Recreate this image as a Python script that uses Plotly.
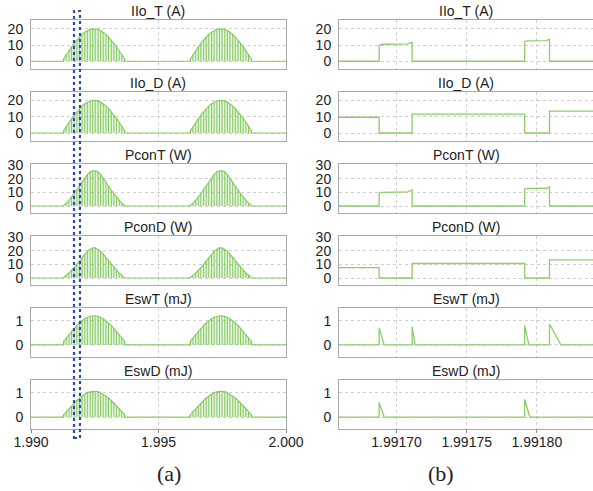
import plotly.graph_objects as go

W, H = 593, 491

# ---------------- data ----------------
titles = ["IIo_T (A)", "IIo_D (A)", "PconT (W)", "PconD (W)", "EswT (mJ)", "EswD (mJ)"]
y_ranges = [[-4.8, 25.5], [-4.9, 25.2], [-5.1, 30.7], [-5.1, 30.7], [-0.5, 1.52], [-0.49, 1.52]]
y_ticks = [[0, 10, 20], [0, 10, 20], [0, 10, 20, 30], [0, 10, 20, 30], [0, 1], [0, 1]]

left_x_range = [1.990, 2.000]
left_x_ticks = [1.990, 1.995, 2.000]
left_x_ticktext = ["1.990", "1.995", "2.000"]

right_x_range = [1.991659, 1.99184]
right_x_ticks = [1.99170, 1.99175, 1.99180]
right_x_ticktext = ["1.99170", "1.99175", "1.99180"]

# switching pulse instants, first and second half-wave (s)
pulse_t_a = [1.99128, 1.99138, 1.99149, 1.99159, 1.99169, 1.99180, 1.99190, 1.99200,
             1.99211, 1.99221, 1.99232, 1.99242, 1.99252, 1.99263, 1.99273, 1.99283,
             1.99294, 1.99304, 1.99315, 1.99325, 1.99335, 1.99346, 1.99356, 1.99367]
pulse_t_b = [1.99625, 1.99635, 1.99646, 1.99656, 1.99666, 1.99677, 1.99687, 1.99697,
             1.99708, 1.99718, 1.99729, 1.99739, 1.99749, 1.99760, 1.99770, 1.99780,
             1.99791, 1.99801, 1.99812, 1.99822, 1.99832, 1.99843, 1.99853, 1.99864]

h_IIo_T = [1.5, 4, 6.5, 9, 11, 13, 15, 16.5, 18, 19, 19.7, 20,
           20, 19.7, 19, 18, 16.5, 15, 13, 11, 9, 6.5, 4, 1.5]
h_IIo_D = [1.5, 4, 6.5, 9, 11, 13, 15, 16.5, 18, 19, 19.7, 20,
           20, 19.7, 19, 18, 16.5, 15, 13, 11, 9, 6.5, 4, 1.5]
h_PconT = [0.5, 2, 4, 6.5, 9, 11.5, 14.5, 17.5, 20.5, 23, 25, 25.7,
           25.7, 25, 23, 20.5, 17.5, 14.5, 11.5, 9, 6.5, 4, 2, 0.5]
h_PconD = [0.5, 2, 3.5, 5.5, 7.5, 10, 12.5, 15, 17.5, 19.5, 21, 22,
           22, 21, 19.5, 17.5, 15, 12.5, 10, 7.5, 5.5, 3.5, 2, 0.5]
h_EswT = [0.15, 0.28, 0.42, 0.56, 0.68, 0.8, 0.9, 1.0, 1.08, 1.14, 1.18, 1.2,
          1.2, 1.18, 1.14, 1.08, 1.0, 0.9, 0.8, 0.68, 0.56, 0.42, 0.28, 0.15]
h_EswD = [0.1, 0.22, 0.34, 0.46, 0.58, 0.68, 0.78, 0.87, 0.94, 1.0, 1.04, 1.05,
          1.05, 1.04, 1.0, 0.94, 0.87, 0.78, 0.68, 0.58, 0.46, 0.34, 0.22, 0.1]
left_heights = [h_IIo_T, h_IIo_D, h_PconT, h_PconD, h_EswT, h_EswD]

# zoomed waveforms, panel (b)
rt_IIo_T = [1.99165, 1.9916876, 1.9916876, 1.99169, 1.991708, 1.9917111, 1.9917111,
            1.9917913, 1.9917913, 1.991793, 1.991807, 1.991809, 1.991809, 1.99185]
rv_IIo_T = [0, 0, 9.7, 10.5, 10.7, 11.6, 0, 0, 12.1, 12.6, 12.7, 13.6, 0, 0]
rt_IIo_D = [1.99165, 1.9916876, 1.9916876, 1.9917111, 1.9917111, 1.9917913, 1.9917913,
            1.991809, 1.991809, 1.99185]
rv_IIo_D = [9.7, 9.7, 0, 0, 11.6, 11.6, 0, 0, 13.4, 13.4]
rt_PconT = rt_IIo_T
rv_PconT = [0, 0, 9.4, 10.0, 10.3, 11.7, 0, 0, 12.2, 12.8, 13.0, 14.0, 0, 0]
rt_PconD = rt_IIo_D
rv_PconD = [7.6, 7.6, 0, 0, 10.6, 10.6, 0, 0, 13.2, 13.2]
rt_EswT = [1.99165, 1.9916876, 1.9916876, 1.9916912, 1.9917111, 1.9917111, 1.9917132,
           1.9917913, 1.9917913, 1.9917943, 1.991809, 1.991809, 1.9918171, 1.99185]
rv_EswT = [0, 0, 0.7, 0, 0, 0.75, 0, 0, 0.79, 0, 0, 0.86, 0, 0]
rt_EswD = [1.99165, 1.9916876, 1.9916876, 1.9916912, 1.9917913, 1.9917913, 1.991795, 1.99185]
rv_EswD = [0, 0, 0.6, 0, 0, 0.72, 0, 0]
right_series = [(rt_IIo_T, rv_IIo_T), (rt_IIo_D, rv_IIo_D), (rt_PconT, rv_PconT),
                (rt_PconD, rv_PconD), (rt_EswT, rv_EswT), (rt_EswD, rv_EswD)]

zoom_window = [1.991686, 1.99192]   # dotted highlight in (a)

# ---------------- style / layout ----------------
FONT = "Liberation Sans, Arial, sans-serif"
GREEN = "rgb(118,196,78)"
GREEN_LIGHT = "rgb(140,206,105)"
FILL = "rgba(140,205,105,0.22)"
BORDER = "#a9a9a9"
GRID = "#cfcfcf"

left_x0, left_x1 = 31 / W, 286 / W
right_x0, right_x1 = 339 / W, 1.0
panel_top0, panel_pitch, panel_h = 20, 72, 49

fig = go.Figure()
layout = {}
annotations = []

for r in range(6):
    top = panel_top0 + panel_pitch * r
    bot = top + panel_h
    ydom = [1 - bot / H, 1 - top / H]
    for c in range(2):
        idx = r * 2 + c + 1
        xa = "x" if idx == 1 else f"x{idx}"
        ya = "y" if idx == 1 else f"y{idx}"
        xkey = "xaxis" if idx == 1 else f"xaxis{idx}"
        ykey = "yaxis" if idx == 1 else f"yaxis{idx}"
        bottom = (r == 5)
        if c == 0:
            xr, xt, xtt, xdom = left_x_range, left_x_ticks, left_x_ticktext, [left_x0, left_x1]
        else:
            xr, xt, xtt, xdom = right_x_range, right_x_ticks, right_x_ticktext, [right_x0, right_x1]
        layout[xkey] = dict(
            domain=xdom, anchor=ya, range=xr, tickvals=xt, ticktext=xtt, automargin=False,
            showticklabels=bottom, ticks="outside" if bottom else "", ticklen=3,
            tickcolor="#8a8a8a", ticklabelstandoff=-3,
            showgrid=True, gridcolor=GRID, griddash="dot", gridwidth=1,
            showline=True, mirror=True, linecolor=BORDER, linewidth=1,
            zeroline=False, tickfont=dict(family=FONT, size=14, color="#222"),
        )
        layout[ykey] = dict(
            domain=ydom, anchor=xa, range=y_ranges[r], tickvals=y_ticks[r], automargin=False,
            ticks="outside", ticklen=4, tickcolor="rgba(0,0,0,0)",
            showgrid=True, gridcolor=GRID, griddash="dot", gridwidth=1,
            showline=True, mirror=True, linecolor=BORDER, linewidth=1,
            zeroline=False, tickfont=dict(family=FONT, size=14, color="#222"),
        )
        # title
        annotations.append(dict(
            text=titles[r], x=(xdom[0] + xdom[1]) / 2, y=1 - (top - 9) / H,
            xref="paper", yref="paper", showarrow=False, xanchor="center", yanchor="middle",
            font=dict(family=FONT, size=14, color="#222")))

        if c == 0:
            h = left_heights[r]
            env_x = [left_x_range[0], pulse_t_a[0]] + pulse_t_a + [pulse_t_a[-1], pulse_t_b[0]] \
                + pulse_t_b + [pulse_t_b[-1], left_x_range[1]]
            env_y = [0, 0] + h + [0, 0] + h + [0, 0]
            fig.add_trace(go.Scatter(x=env_x, y=env_y, mode="lines", fill="tozeroy",
                                     fillcolor=FILL, line=dict(color=GREEN_LIGHT, width=1.2),
                                     xaxis=xa, yaxis=ya, showlegend=False, hoverinfo="skip"))
            sx, sy = [], []
            for t, v in zip(pulse_t_a + pulse_t_b, h + h):
                sx += [t, t, None]
                sy += [0, v, None]
            fig.add_trace(go.Scatter(x=sx, y=sy, mode="lines",
                                     line=dict(color=GREEN, width=0.9),
                                     xaxis=xa, yaxis=ya, showlegend=False, hoverinfo="skip"))
        else:
            tx, ty = right_series[r]
            fig.add_trace(go.Scatter(x=tx, y=ty, mode="lines",
                                     line=dict(color=GREEN_LIGHT, width=1.3),
                                     xaxis=xa, yaxis=ya, showlegend=False, hoverinfo="skip"))

# (a) / (b) captions
annotations.append(dict(text="(a)", x=169 / W, y=1 - 473 / H, xref="paper", yref="paper",
                        showarrow=False, xanchor="center", yanchor="middle",
                        font=dict(family="Liberation Serif, Times New Roman, serif", size=22, color="#222")))
annotations.append(dict(text="(b)", x=441 / W, y=1 - 473 / H, xref="paper", yref="paper",
                        showarrow=False, xanchor="center", yanchor="middle",
                        font=dict(family="Liberation Serif, Times New Roman, serif", size=22, color="#222")))

shapes = [dict(type="rect", xref="x11", yref="paper",
               x0=zoom_window[0], x1=zoom_window[1], y0=1 - 438 / H, y1=1 - 11 / H,
               line=dict(color="rgb(45,75,175)", width=2.2, dash="dot"),
               fillcolor="rgba(0,0,0,0)", layer="above")]

fig.update_layout(
    width=W, height=H, margin=dict(l=0, r=0, t=0, b=0, autoexpand=False),
    paper_bgcolor="white", plot_bgcolor="white",
    annotations=annotations, shapes=shapes, showlegend=False,
    **layout,
)

fig.write_html("out.html")
